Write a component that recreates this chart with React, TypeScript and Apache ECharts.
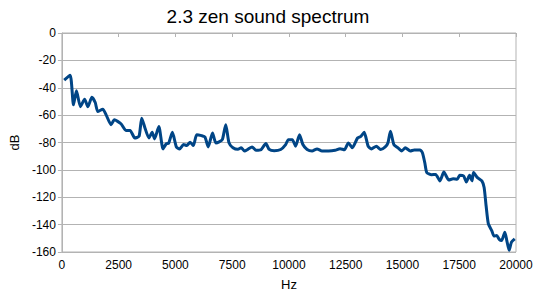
import React, { useEffect, useRef } from "react";
import * as echarts from "echarts";

const titleText = "2.3 zen sound spectrum";
const xName = "Hz";
const yName = "dB";

const freqs = [
  100, 362, 510, 640, 814, 1000, 1145, 1320, 1468, 1580, 1800, 1947, 2165, 2308, 2600, 2818, 3005, 3210,
  3397, 3515, 3658, 3832, 3976, 4080, 4268, 4455, 4603, 4700, 4865, 5040, 5182, 5357, 5500, 5648, 5792,
  5936, 6154, 6300, 6445, 6633, 6780, 6924, 7068, 7216, 7360, 7534, 7752, 7896, 8044, 8188, 8375, 8550,
  8767, 8985, 9132, 9350, 9637, 9855, 9973, 10147, 10291, 10465, 10613, 10800, 11018, 11236, 11454,
  11745, 12033, 12250, 12441, 12617, 12790, 13021, 13165, 13313, 13487, 13631, 13849, 14036, 14241,
  14358, 14471, 14620, 14794, 14968, 15125, 15343, 15517, 15778, 15882, 15983, 16070, 16275, 16462,
  16649, 16823, 17041, 17232, 17407, 17520, 17694, 17812, 17956, 18060, 18130, 18304, 18496, 18596,
  18683, 18783, 18931, 19031, 19150, 19262, 19366, 19510, 19600, 19697, 19800, 19945,
];

const levels = [
  -34.5, -30.8, -52.5, -42.2, -53.8, -48.4, -53.8, -46.9, -50.8, -57.4, -55.7, -59.8, -67, -63.4, -66.3,
  -71.2, -71.2, -76.7, -75.5, -62.2, -69.4, -76.7, -72.6, -77.4, -68.3, -84.7, -80.8, -80.5, -72.6, -83.2,
  -84.7, -81.5, -82.2, -79.8, -82.2, -74.3, -75, -76, -83.2, -73, -80.3, -79.5, -77.8, -67, -80.3, -83.8,
  -85, -83.8, -86.2, -85, -83.2, -85.7, -85.3, -80.8, -85.1, -86, -85.1, -81.5, -77.9, -77.9, -82.7,
  -74.3, -81.5, -85.1, -86.2, -84.7, -86.2, -86.2, -85.7, -84.5, -85.3, -80.3, -83.8, -76.7, -75.5,
  -72.6, -82.7, -84.7, -82.7, -85.1, -83.2, -80.3, -71.8, -81.5, -83.8, -86.2, -83.8, -86.2, -85.5,
  -85.5, -87.6, -94.8, -102, -103.5, -103.3, -108.1, -101.6, -107.4, -106.5, -106.9, -104, -104.5,
  -108.8, -104, -108, -102, -105.7, -108.1, -112.9, -126.2, -139.5, -144.3, -148.4, -148, -150.8,
  -151.6, -145.5, -152, -158.8, -152.8, -150.4,
];

const FONT = "'Liberation Sans', Arial, sans-serif";

export default function App() {
  const ref = useRef<HTMLDivElement>(null);
  useEffect(() => {
    if (!ref.current) return;
    const chart = echarts.init(ref.current, null, { renderer: "svg" });
    const data = freqs.map((f, i) => [f, levels[i]]);
    chart.setOption({
      animation: false,
      backgroundColor: "#ffffff",
      textStyle: { fontFamily: FONT },
      title: {
        text: titleText,
        left: "center",
        top: 7,
        padding: 0,
        textStyle: { fontFamily: FONT, fontSize: 19, fontWeight: "normal", color: "#000" },
      },
      grid: {
        left: 57,
        right: 20,
        top: 33,
        bottom: 43,
        show: true,
        borderColor: "#b3b3b3",
        borderWidth: 1,
      },
      xAxis: {
        type: "value",
        min: 0,
        max: 20000,
        interval: 2500,
        name: xName,
        nameLocation: "middle",
        nameGap: 26,
        nameTextStyle: { fontFamily: FONT, fontSize: 13, color: "#000" },
        axisLine: { show: true, lineStyle: { color: "#b3b3b3" } },
        axisTick: { show: true, length: 4, lineStyle: { color: "#b3b3b3" } },
        axisLabel: {
          fontFamily: FONT,
          fontSize: 12,
          color: "#000",
          margin: 7,
          formatter: (v: number) => String(v),
        },
        splitLine: { show: false },
      },
      yAxis: {
        type: "value",
        min: -160,
        max: 0,
        interval: 20,
        name: yName,
        nameLocation: "middle",
        nameGap: 32,
        nameRotate: 90,
        nameTextStyle: { fontFamily: FONT, fontSize: 13, color: "#000" },
        axisLine: { show: true, lineStyle: { color: "#b3b3b3" } },
        axisTick: { show: true, length: 4, lineStyle: { color: "#b3b3b3" } },
        axisLabel: { fontFamily: FONT, fontSize: 12, color: "#000", margin: 6 },
        splitLine: { show: true, lineStyle: { color: "#b3b3b3", width: 1 } },
      },
      series: [
        {
          type: "line",
          data,
          showSymbol: false,
          smooth: 0.2,
          lineStyle: { color: "#004586", width: 3 },
          itemStyle: { color: "#004586" },
        },
      ],
    });
    return () => chart.dispose();
  }, []);
  return (
    <div
      ref={ref}
      style={{ position: "fixed", left: 0, top: 0, width: 536, height: 296 }}
    />
  );
}
